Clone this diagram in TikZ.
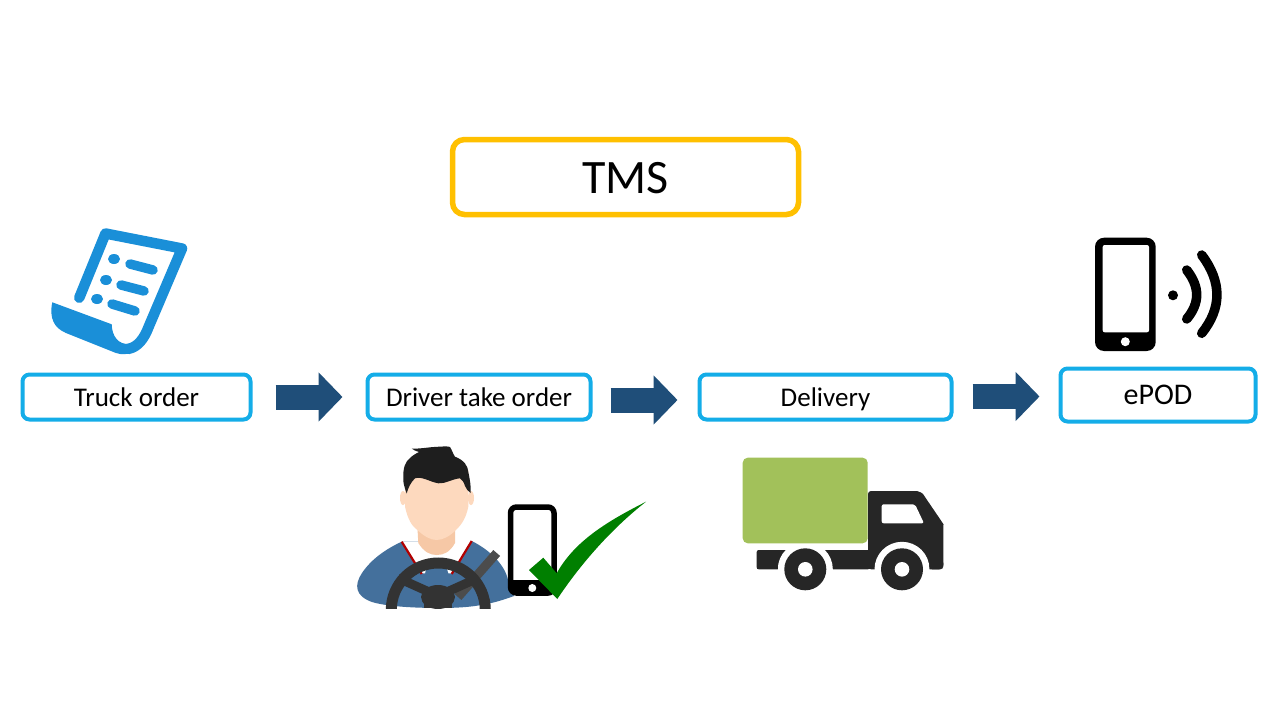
\documentclass[tikz,border=0pt]{standalone}
\usepackage{fontspec}
\setmainfont{Carlito}
\usetikzlibrary{arrows.meta,calc}
\definecolor{cyanb}{HTML}{14ADE8}
\definecolor{amber}{HTML}{FFC000}
\definecolor{navyarrow}{HTML}{1F4E79}
\definecolor{docblue}{HTML}{1A8FD8}
\definecolor{shirt}{HTML}{44709C}
\definecolor{skin}{HTML}{FDD9BE}
\definecolor{skindark}{HTML}{F6C8A6}
\definecolor{wheeldark}{HTML}{333333}
\definecolor{checkg}{HTML}{007F00}
\definecolor{truckg}{HTML}{A2C15A}
\definecolor{truckd}{HTML}{262626}
\tikzset{
  stepbox/.style={draw=cyanb,line width=4pt,rounded corners=7pt,fill=white,inner sep=0pt,font=\fontsize{27}{30}\selectfont,text=black,text height=19pt,text depth=0pt},
  tmsbox/.style={draw=amber,line width=5.5pt,rounded corners=12pt,fill=white,inner sep=0pt,font=\fontsize{48}{52}\selectfont,text=black,text height=33pt,text depth=0pt},
  blockarrow/.style={draw=navyarrow,line width=25pt,-{Triangle[length=24pt,width=48pt,fill=navyarrow]}},
  blackline/.style={draw=black,line cap=round,line width=9.5pt},
}
\begin{document}
\begin{tikzpicture}[x=1pt,y=-1pt]
\useasboundingbox (0,0) rectangle (1280,720);
\fill[white] (0,0) rectangle (1280,720);

% Boxes
\node[tmsbox,minimum width=346pt,minimum height=75pt] (tms) at (625.5,177) {TMS};
\node[stepbox,minimum width=228pt,minimum height=45pt] (truck) at (136.5,397) {Truck order};
\node[stepbox,minimum width=223pt,minimum height=45pt] (driver) at (479,397) {Driver take order};
\node[stepbox,minimum width=252pt,minimum height=45pt] (delivery) at (825.5,397) {Delivery};
\node[stepbox,minimum width=195pt,minimum height=53pt,font=\fontsize{30}{33}\selectfont,text height=19pt] (epod) at (1158,395) {ePOD};

% Block arrows
\draw[blockarrow,shorten <=23pt,shorten >=23pt] (truck.east) -- (driver.west);
\draw[blockarrow,shorten <=18pt,shorten >=20pt] ([yshift=-3pt]driver.east) -- ([yshift=-3pt]delivery.west);
\draw[blockarrow,shorten <=19pt,shorten >=19pt] ([yshift=0.5pt]delivery.east) -- ([yshift=-1.5pt]epod.west);

% Document icon
\draw[docblue,line width=10.5pt,line cap=round,line join=round]
  (79.3,297.7) -- (105.5,233.5) -- (182,248.5) -- (149,326) .. controls (144,339) and (138,347) .. (128,349);
\fill[docblue] (52.3,302.3) -- (111.7,324.3) .. controls (112,336) and (118,345) .. (130,344)
  -- (131,352) .. controls (128,354.5) and (122,355) .. (116,353) -- (66,333) .. controls (54,328) and (49,318) .. (52.3,302.3) -- cycle;
\foreach \a/\b/\c/\d/\e/\f in {114/259/130/264/153/270, 106/280/121/285/144/291, 97/299/112/304/135/311}{
  \fill[docblue] (\a,\b) ellipse[x radius=6pt,y radius=5pt];
  \draw[docblue,line width=9.5pt,line cap=round] (\c,\d) -- (\e,\f);
}

% Driver
\begin{scope}
\clip (340,430) rectangle (530,608);
\fill[shirt] (401.7,541.7) -- (471.7,541) .. controls (490,550) and (505,565) .. (508,580)
  -- (514,596) .. controls (490,605) and (470,608) .. (440,608) .. controls (410,608) and (385,606) .. (372,602)
  .. controls (355,596) and (354,585) .. (362,573) .. controls (372,558) and (388,548) .. (401.7,541.7) -- cycle;
\fill[white] (401.7,541.7) -- (421.7,573.3) -- (425,573.3) -- (427,566) -- (446,566) -- (448.5,573.3) -- (451.7,573.3) -- (471.7,541) -- cycle;
\draw[red!70!black,line width=2.2pt] (401.7,541.7) -- (421.7,574);
\draw[red!70!black,line width=2.2pt] (471.7,541) -- (451.7,574);
\fill[skindark] (417.3,525) -- (418.3,543) .. controls (424,552) and (430,555) .. (436.7,555) .. controls (444,555) and (450,552) .. (455,543) -- (455,525) -- cycle;
\fill[skin] (403,498) ellipse[x radius=3pt,y radius=7pt];
\fill[skin] (471,498) ellipse[x radius=3pt,y radius=7pt];
\fill[skin] (405,470) -- (405,506.7) .. controls (408,520) and (412,526) .. (417.3,530) .. controls (424,536) and (430,540) .. (436.7,540) .. controls (443,540) and (450,536) .. (456,530) .. controls (462,524) and (466,518) .. (468.3,506.7) -- (468.3,470) -- cycle;
\fill[truckd!80!black] (411.7,448.5) .. controls (420,449) and (426,447.5) .. (434,447) .. controls (442,446.5) and (448,446) .. (450,447)
  .. controls (452,450) and (453,454) .. (455,456.7) .. controls (464,460) and (468,466) .. (468.3,472) .. controls (470,480) and (471,486) .. (470.7,493)
  .. controls (468,491) and (466,489) .. (465,486) .. controls (464,482) and (462,480) .. (460,478.3) .. controls (452,479) and (445,484) .. (438.3,483.3)
  .. controls (430,482) and (422,476) .. (415,478.3) .. controls (411,482) and (408,488) .. (406.7,493.5)
  .. controls (404,486) and (403,482) .. (403.3,478.3) .. controls (403,468) and (405,462) .. (410,458) .. controls (413,455) and (417,453) .. (419,452) .. controls (416,451) and (413,450) .. (411.7,448.5) -- cycle;
\draw[line width=9pt,color=black!70] (496.7,553) -- (458,597);
\draw[wheeldark,line width=11pt] (438.3,610) circle[radius=47];
\draw[wheeldark,line width=9pt] (438,596) -- (398,578);
\draw[wheeldark,line width=9pt] (438,596) -- (478,578);
\fill[wheeldark] (438,597) ellipse[x radius=17pt,y radius=12pt];
\fill[wheeldark] (424,597) rectangle (452,608);
\end{scope}
% Driver phone
\draw[black,line width=5.5pt,rounded corners=6pt,fill=white] (510.5,507) rectangle (554,593);
\fill[black] (511,580) rectangle (554,593);
\fill[white] (532.3,588) circle[radius=4];
% Check mark
\fill[checkg] (529,570) -- (543.3,557.7) -- (556.7,573.3) .. controls (575,540) and (610,520) .. (646,501.7)
  .. controls (610,530) and (580,565) .. (557.3,599) -- cycle;

% Truck
\fill[truckd,rounded corners=2pt] (756.7,550) rectangle (870,569.3);
\fill[truckd,rounded corners=3pt] (868,569.3) -- (868,491) -- (914,491) .. controls (920,491) and (923,494) .. (925,497)
  -- (942,522) .. controls (943.3,524) and (943.3,526) .. (943.3,530) -- (943.3,562) .. controls (943.3,567) and (940,569.3) .. (936,569.3) -- cycle;
\fill[white,rounded corners=2pt] (881.7,504.3) -- (915,504.3) -- (924,523.3) -- (881.7,523.3) -- cycle;
\fill[white] (805.3,569.3) circle[radius=27.5];
\fill[white] (902,569.3) circle[radius=27.5];
\fill[white] (750,569.5) rectangle (950,600);
\fill[truckd] (756.7,560) rectangle (778,569.3);
\fill[truckd] (833,560) rectangle (874,569.3);
\fill[truckd,rounded corners=3pt] (929.3,560) rectangle (943.3,569.3);
\fill[truckg,rounded corners=5pt] (742.7,457.7) rectangle (867.7,543.3);
\fill[truckd] (805.3,569.3) circle[radius=21];
\fill[white] (805.3,569.3) circle[radius=7.3];
\fill[truckd] (902,569.3) circle[radius=21];
\fill[white] (902,569.3) circle[radius=7.3];

% ePOD phone
\fill[black,rounded corners=9pt] (1095,237.7) rectangle (1155.7,351);
\fill[white,rounded corners=2pt] (1102.7,245) rectangle (1149,332.3);
\fill[white] (1125.3,341.7) circle[radius=4.5];
\fill[black] (1173,295.3) circle[radius=5];
\draw[blackline] (1186.7,270) .. controls (1200,287) and (1200,303) .. (1186.7,319);
\draw[blackline] (1201.7,255) .. controls (1222,282) and (1222,308) .. (1201.7,333.3);
\end{tikzpicture}
\end{document}
